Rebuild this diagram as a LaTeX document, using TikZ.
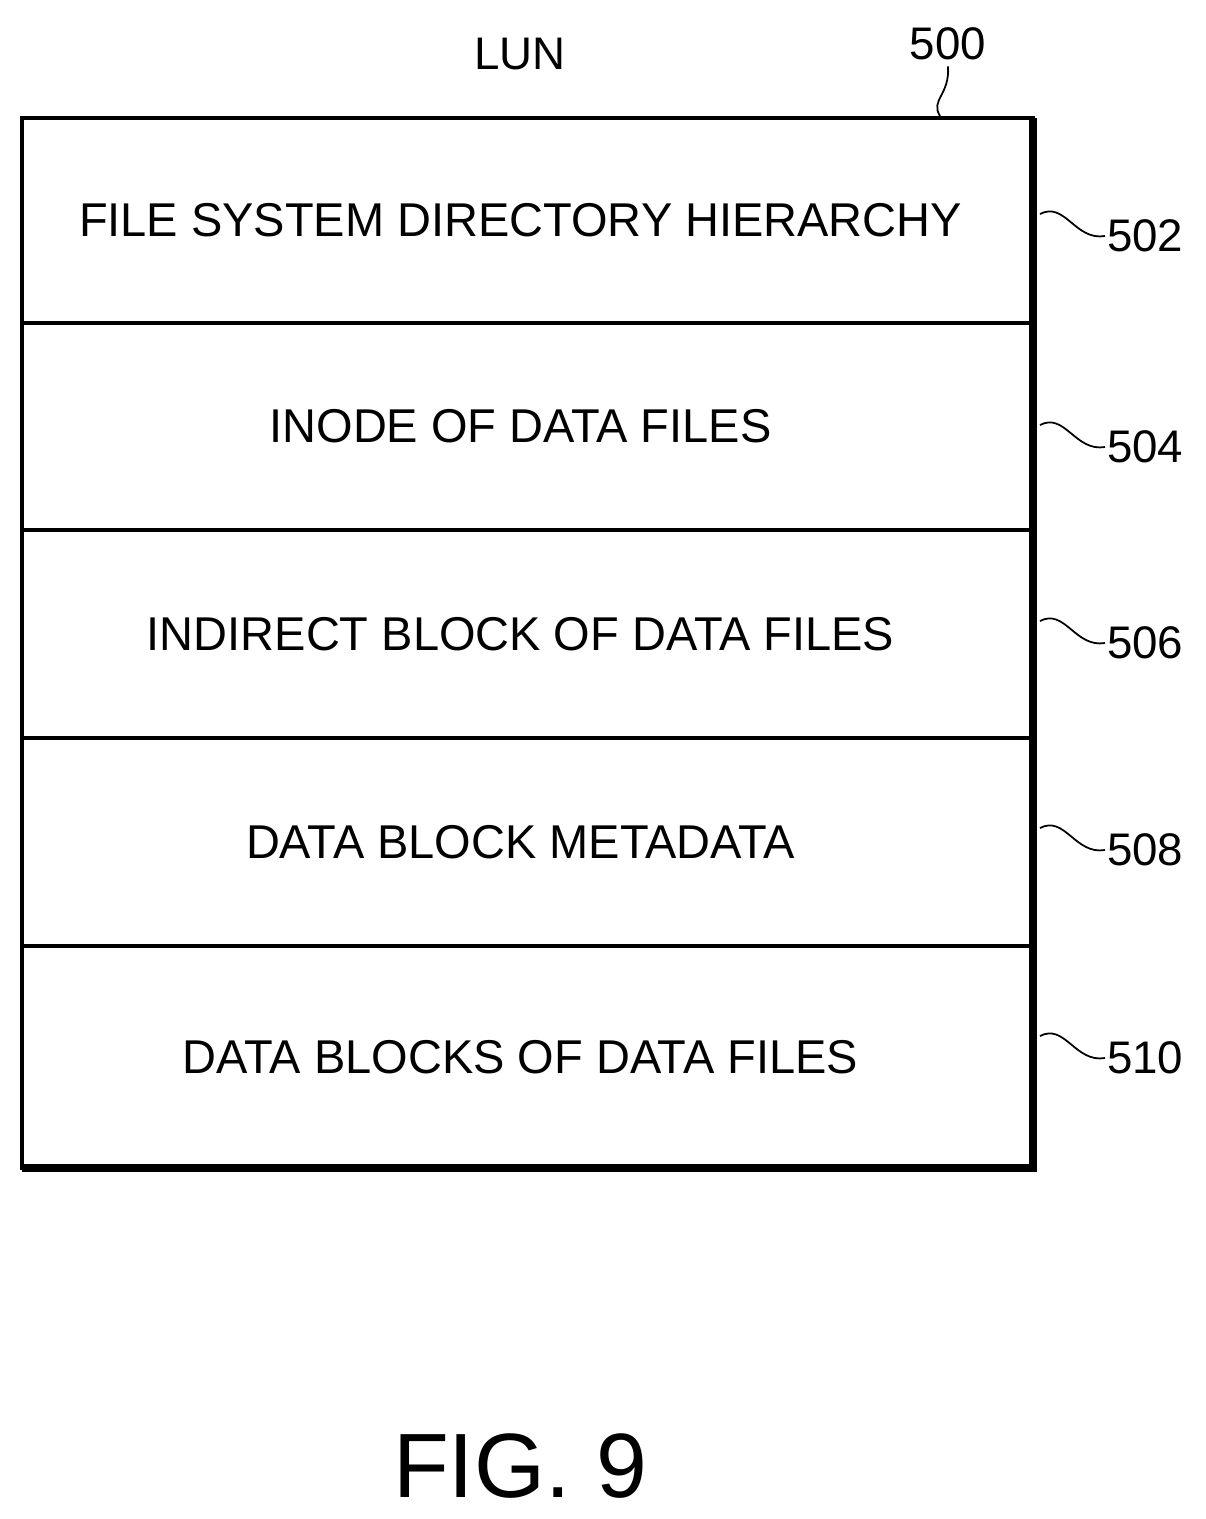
\documentclass[tikz,border=0pt]{standalone}
\usepackage{fontspec}
\setmainfont{Liberation Sans}
\usetikzlibrary{positioning}
\tikzset{
  layer/.style={draw, line width=2pt, minimum width=20.22cm, inner sep=0pt,
    font=\fontsize{27}{30}\selectfont},
  refnum/.style={font=\fontsize{26}{28}\selectfont, inner sep=1pt, anchor=west},
  squiggle/.style={line width=1pt}
}
\begin{document}
\begin{tikzpicture}[x=0.02cm,y=-0.02cm]
  \useasboundingbox (0,0) rectangle (1206,1519);
  % stack of layers
  \node[layer, minimum height=4.1cm] (L502) at (527.5,220.5) {\hspace{-0.28cm}\scalebox{0.99}[1]{FILE SYSTEM DIRECTORY HIERARCHY}};
  \node[layer, minimum height=4.14cm] (L504) at (527.5,426.5) {\hspace{-0.28cm}\scalebox{0.99}[1]{INODE OF DATA FILES}};
  \node[layer, minimum height=4.16cm] (L506) at (527.5,634) {\hspace{-0.28cm}\scalebox{0.99}[1]{INDIRECT BLOCK OF DATA FILES}};
  \node[layer, minimum height=4.16cm] (L508) at (527.5,842) {\hspace{-0.28cm}\scalebox{0.99}[1]{DATA BLOCK METADATA}};
  \node[layer, minimum height=4.44cm] (L510) at (527.5,1057) {\hspace{-0.28cm}\scalebox{0.99}[1]{DATA BLOCKS OF DATA FILES}};
  % thick right and bottom edge
  \draw[line width=4.5pt] (1033,118) -- (1033,1168) -- (22,1168);
  % titles
  \node[font=\fontsize{26}{28}\selectfont] (lun) at (520,54) {LUN};
  \node[font=\fontsize{26}{28}\selectfont] (r500) at (948,44) {500};
  \draw[squiggle] (940,116) .. controls (930,100) and (950,95) .. (r500.south);
  % reference numbers
  \foreach \n/\y in {502/236,504/447,506/643,508/850,510/1058}{
    \node[refnum] (r\n) at (1105,\y) {\n};
    \coordinate (s\n) at (1040,\y-22);
    \draw[squiggle] (s\n) .. controls (1065,\y-35) and (1075,\y+5) .. (r\n.west);
  }
  \node[font=\fontsize{52}{56}\selectfont] (fig) at (520,1466) {FIG. 9};
\end{tikzpicture}
\end{document}
